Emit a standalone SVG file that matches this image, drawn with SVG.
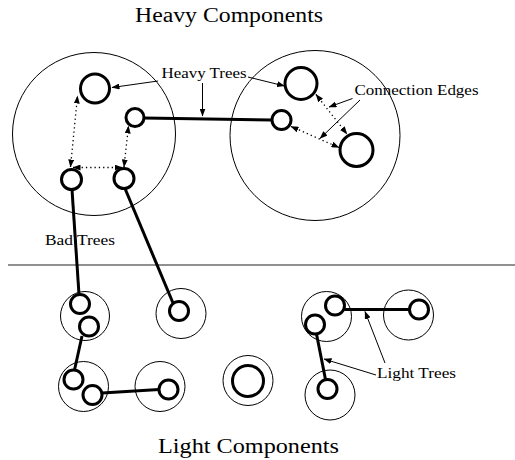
<svg xmlns="http://www.w3.org/2000/svg" width="515" height="460" viewBox="0 0 515 460">
<style>
text{font-family:"Liberation Serif","DejaVu Serif",serif;fill:#000}
.title{font-size:20px}
.lbl{font-size:14px}
.comp{fill:none;stroke:#000;stroke-width:1}
.tree{fill:none;stroke:#000;stroke-width:3}
.edge{fill:none;stroke:#000;stroke-width:3}
.ptr{fill:none;stroke:#000;stroke-width:1;marker-end:url(#ah)}
.dot{fill:none;stroke:#000;stroke-width:1.3;stroke-dasharray:1.3 3;marker-start:url(#ah);marker-end:url(#ah)}
</style>
<defs>
<marker id="ah" viewBox="0 0 8 6" refX="7.5" refY="3" markerWidth="8" markerHeight="6" markerUnits="userSpaceOnUse" orient="auto-start-reverse">
<path d="M0,0 L8,3 L0,6 Z" fill="#000"/>
</marker>
</defs>
<rect width="515" height="460" fill="#fff"/>
<text class="title" x="135" y="22" textLength="188" lengthAdjust="spacingAndGlyphs">Heavy Components</text>
<text class="title" x="158" y="453" textLength="181" lengthAdjust="spacingAndGlyphs">Light Components</text>
<line x1="8" y1="265" x2="515" y2="265" stroke="#222" stroke-width="1.2"/>
<g id="heavy-left">
<circle class="comp" cx="94" cy="134" r="81.5"/>
<circle class="tree" cx="95" cy="88.5" r="14.5"/>
<circle class="tree" cx="135" cy="117.5" r="9"/>
<circle class="tree" cx="71.5" cy="179.5" r="10"/>
<circle class="tree" cx="124" cy="178.5" r="10"/>
</g>
<g id="heavy-right">
<circle class="comp" cx="315" cy="135.5" r="85"/>
<circle class="tree" cx="301" cy="83.5" r="16"/>
<circle class="tree" cx="356.5" cy="150" r="16.5"/>
<circle class="tree" cx="281.5" cy="120" r="9.5"/>
</g>
<g id="light-1">
<circle class="comp" cx="85" cy="316" r="24.5"/>
<circle class="tree" cx="80" cy="304" r="9.5"/>
<circle class="tree" cx="89" cy="326.5" r="9.5"/>
</g>
<g id="light-2">
<circle class="comp" cx="181" cy="313.5" r="25"/>
<circle class="tree" cx="179" cy="311" r="9.5"/>
</g>
<g id="light-3">
<circle class="comp" cx="83.5" cy="386.5" r="25"/>
<circle class="tree" cx="73.5" cy="379.5" r="9.5"/>
<circle class="tree" cx="92.5" cy="395" r="9.5"/>
</g>
<g id="light-4">
<circle class="comp" cx="160" cy="386.5" r="25"/>
<circle class="tree" cx="168.5" cy="389.5" r="9.5"/>
</g>
<g id="light-5">
<circle class="comp" cx="248" cy="380.5" r="25"/>
<circle class="tree" cx="248" cy="381" r="15.5"/>
</g>
<g id="light-6">
<circle class="comp" cx="326.5" cy="316.5" r="25"/>
<circle class="tree" cx="335" cy="305.5" r="9.5"/>
<circle class="tree" cx="315" cy="324.5" r="9.5"/>
</g>
<g id="light-7">
<circle class="comp" cx="408.5" cy="315" r="25"/>
<circle class="tree" cx="419" cy="309.5" r="9.5"/>
</g>
<g id="light-8">
<circle class="comp" cx="330" cy="395" r="25"/>
<circle class="tree" cx="327.5" cy="389" r="9.5"/>
</g>
<g id="connectors">
<line class="edge" x1="144" y1="118" x2="272" y2="120"/>
<line class="edge" x1="72" y1="189.5" x2="79" y2="294.5"/>
<line class="edge" x1="125" y1="188.5" x2="173" y2="303"/>
<line class="edge" x1="82" y1="336" x2="74.5" y2="370"/>
<line class="edge" x1="102" y1="393" x2="159" y2="389.5"/>
<line class="edge" x1="344.5" y1="309.5" x2="409.5" y2="309.5"/>
<line class="edge" x1="316.5" y1="334" x2="325.5" y2="379.5"/>
<line class="dot" x1="70.5" y1="167" x2="77.5" y2="96"/>
<line class="dot" x1="73" y1="167.5" x2="122" y2="167.5"/>
<line class="dot" x1="124" y1="167" x2="128.5" y2="126"/>
<line class="dot" x1="316" y1="94.5" x2="347" y2="134"/>
<line class="dot" x1="291" y1="126.5" x2="339" y2="147.5"/>
<line class="ptr" x1="158" y1="81" x2="112" y2="87.5"/>
<line class="ptr" x1="202.5" y1="83" x2="202.5" y2="116"/>
<line class="ptr" x1="248" y1="77" x2="284.5" y2="86"/>
<line class="ptr" x1="352.5" y1="98.5" x2="329" y2="107"/>
<line class="ptr" x1="360" y1="100" x2="320" y2="138.5"/>
<line class="ptr" x1="376" y1="375" x2="324" y2="359"/>
<line class="ptr" x1="385" y1="363" x2="365" y2="311.5"/>
</g>
<g id="labels">
<text class="lbl" x="161.5" y="77.5" textLength="85" lengthAdjust="spacingAndGlyphs">Heavy Trees</text>
<text class="lbl" x="354.5" y="95" textLength="124" lengthAdjust="spacingAndGlyphs">Connection Edges</text>
<text class="lbl" x="45" y="245" textLength="70" lengthAdjust="spacingAndGlyphs">Bad Trees</text>
<text class="lbl" x="377" y="377.5" textLength="79" lengthAdjust="spacingAndGlyphs">Light Trees</text>
</g>
</svg>
